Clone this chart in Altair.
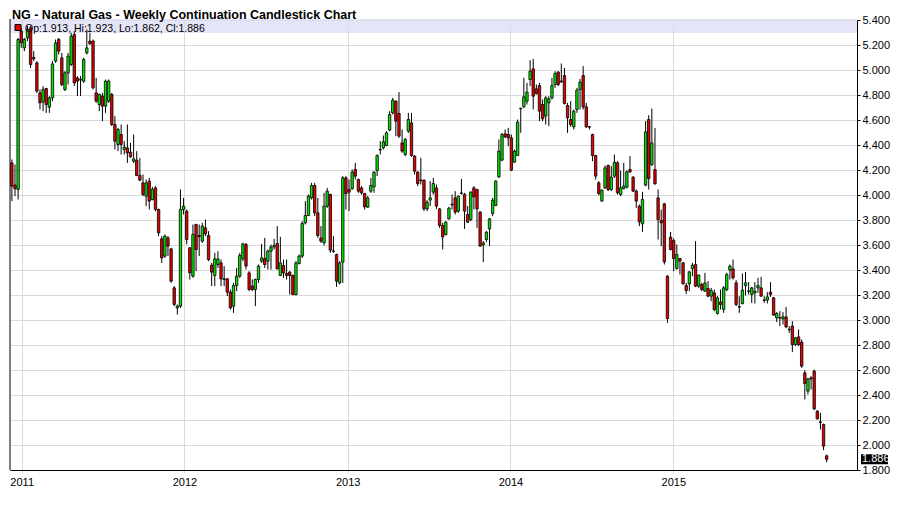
import altair as alt
import pandas as pd
import numpy as np

# ---- data (weekly candles, Dec 2010 - Dec 2015) ----
opens = [
    4.257, 4.080, 4.044, 5.311, 5.177, 5.257, 5.337, 5.100, 5.057, 4.817,
    4.745, 4.852, 4.703, 4.777, 5.071, 5.244, 5.097, 4.844, 4.977, 5.044,
    5.284, 4.937, 4.920, 4.911, 5.137, 5.231, 5.231, 4.817, 4.724, 4.791,
    4.711, 4.751, 4.804, 4.564, 4.404, 4.484, 4.364, 4.377, 4.343, 4.271,
    4.279, 4.156, 4.097, 3.991, 4.111, 3.964, 4.057, 3.884, 3.649, 3.511,
    3.657, 3.569, 3.257, 3.097, 3.111, 3.884, 3.871, 3.577, 3.351, 3.764,
    3.675, 3.631, 3.737, 3.676, 3.439, 3.356, 3.444, 3.457, 3.329, 3.329,
    3.223, 3.111, 3.276, 3.351, 3.489, 3.604, 3.377, 3.271, 3.244, 3.324,
    3.471, 3.492, 3.471, 3.551, 3.585, 3.612, 3.356, 3.436, 3.372, 3.383,
    3.356, 3.204, 3.452, 3.511, 3.777, 3.836, 3.977, 4.076, 3.857, 3.657,
    3.617, 3.911, 4.004, 3.553, 3.524, 3.297, 3.463, 4.137, 4.044, 4.049,
    4.204, 4.124, 4.057, 4.012, 3.903, 4.031, 4.065, 4.196, 4.360, 4.377,
    4.396, 4.519, 4.657, 4.751, 4.652, 4.417, 4.324, 4.511, 4.577, 4.311,
    4.183, 4.120, 4.119, 3.889, 3.959, 4.023, 4.057, 3.889, 3.756, 3.684,
    3.809, 3.926, 3.977, 3.871, 4.012, 4.004, 3.844, 3.804, 4.057, 4.044,
    3.863, 3.601, 3.644, 3.729, 3.852, 3.916, 4.145, 4.279, 4.489, 4.484,
    4.457, 4.263, 4.316, 4.690, 4.705, 4.751, 4.924, 5.009, 4.849, 4.876,
    4.724, 4.631, 4.737, 4.777, 4.884, 4.983, 4.912, 4.956, 4.716, 4.604,
    4.545, 4.684, 4.844, 4.956, 4.705, 4.547, 4.484, 4.316, 4.097, 3.951,
    4.057, 4.236, 4.044, 4.151, 4.257, 4.004, 4.052, 4.063, 4.204, 4.143,
    4.031, 3.911, 3.769, 4.079, 4.604, 4.244, 4.204, 3.977, 3.796, 3.929,
    3.351, 3.663, 3.636, 3.412, 3.492, 3.457, 3.276, 3.289, 3.412, 3.444,
    3.271, 3.284, 3.231, 3.252, 3.191, 3.217, 3.052, 3.143, 3.084, 3.244,
    3.399, 3.409, 3.297, 3.108, 3.132, 3.276, 3.233, 3.204, 3.217, 3.257,
    3.257, 3.161, 3.159, 3.223, 3.177, 3.017, 3.019, 3.009, 3.025, 2.926,
    2.951, 2.804, 2.865, 2.823, 2.577, 2.431, 2.537, 2.591, 2.271, 2.185,
    2.164, 1.913,
]
highs = [
    4.284, 4.244, 5.257, 5.337, 5.257, 5.351, 5.351, 5.151, 5.071, 4.844,
    4.871, 4.857, 4.791, 5.071, 5.244, 5.257, 5.137, 4.991, 5.137, 5.297,
    5.311, 4.951, 4.951, 5.097, 5.324, 5.297, 5.244, 4.937, 4.811, 4.817,
    4.924, 4.924, 4.817, 4.631, 4.537, 4.564, 4.431, 4.564, 4.417, 4.484,
    4.351, 4.297, 4.164, 4.124, 4.137, 4.065, 4.071, 3.891, 3.671, 3.684,
    3.671, 3.577, 3.271, 3.124, 4.044, 3.977, 3.884, 3.584, 3.764, 3.770,
    3.764, 3.777, 3.804, 3.711, 3.457, 3.537, 3.551, 3.484, 3.431, 3.337,
    3.244, 3.297, 3.417, 3.537, 3.617, 3.617, 3.391, 3.324, 3.331, 3.444,
    3.609, 3.657, 3.564, 3.604, 3.649, 3.751, 3.665, 3.484, 3.484, 3.391,
    3.364, 3.471, 3.524, 3.791, 3.951, 4.004, 4.097, 4.097, 3.977, 3.751,
    4.017, 4.057, 4.011, 3.671, 3.531, 3.471, 4.151, 4.151, 4.124, 4.204,
    4.257, 4.131, 4.071, 4.017, 3.991, 4.137, 4.191, 4.324, 4.431, 4.476,
    4.511, 4.671, 4.777, 4.756, 4.823, 4.524, 4.457, 4.657, 4.657, 4.319,
    4.191, 4.297, 4.124, 3.959, 4.111, 4.137, 4.084, 3.897, 3.777, 3.791,
    3.905, 4.004, 4.031, 3.996, 4.129, 4.017, 3.911, 4.031, 4.071, 4.049,
    3.871, 3.631, 3.711, 3.817, 3.977, 4.119, 4.444, 4.497, 4.524, 4.537,
    4.484, 4.364, 4.604, 4.697, 4.937, 4.897, 5.079, 5.089, 4.884, 4.897,
    4.764, 4.791, 4.791, 4.937, 4.991, 4.991, 5.052, 5.017, 4.737, 4.751,
    4.684, 4.857, 4.929, 5.031, 4.737, 4.551, 4.491, 4.321, 4.111, 4.044,
    4.236, 4.244, 4.231, 4.324, 4.271, 4.196, 4.257, 4.196, 4.311, 4.151,
    4.044, 3.924, 4.025, 4.591, 4.639, 4.692, 4.537, 4.044, 3.884, 3.937,
    3.358, 3.705, 3.652, 3.604, 3.497, 3.465, 3.297, 3.391, 3.457, 3.631,
    3.364, 3.297, 3.377, 3.311, 3.257, 3.244, 3.191, 3.244, 3.271, 3.377,
    3.444, 3.484, 3.319, 3.191, 3.372, 3.383, 3.303, 3.265, 3.303, 3.337,
    3.345, 3.191, 3.223, 3.303, 3.185, 3.063, 3.071, 3.063, 3.105, 2.951,
    2.991, 2.865, 2.924, 2.844, 2.599, 2.537, 2.551, 2.604, 2.279, 2.257,
    2.172, 1.923,
]
lows = [
    3.951, 3.991, 3.964, 5.177, 5.151, 5.231, 5.017, 5.071, 4.817, 4.684,
    4.671, 4.657, 4.657, 4.751, 5.057, 5.124, 4.871, 4.831, 4.884, 5.031,
    4.871, 4.791, 4.791, 4.897, 5.124, 5.204, 4.844, 4.737, 4.671, 4.591,
    4.657, 4.737, 4.551, 4.364, 4.351, 4.324, 4.324, 4.257, 4.297, 4.257,
    4.151, 4.111, 3.991, 3.911, 3.884, 3.957, 3.871, 3.671, 3.457, 3.497,
    3.511, 3.297, 3.111, 3.044, 3.097, 3.844, 3.604, 3.324, 3.337, 3.391,
    3.511, 3.617, 3.671, 3.471, 3.271, 3.271, 3.417, 3.271, 3.271, 3.191,
    3.084, 3.057, 3.231, 3.337, 3.471, 3.404, 3.231, 3.231, 3.111, 3.297,
    3.457, 3.417, 3.404, 3.404, 3.564, 3.404, 3.351, 3.337, 3.324, 3.204,
    3.198, 3.196, 3.444, 3.497, 3.764, 3.831, 3.964, 3.831, 3.657, 3.617,
    3.596, 3.897, 3.537, 3.537, 3.265, 3.284, 3.297, 3.884, 3.871, 4.044,
    4.124, 4.017, 4.004, 3.884, 3.897, 4.017, 4.017, 4.151, 4.324, 4.364,
    4.391, 4.511, 4.644, 4.471, 4.457, 4.337, 4.311, 4.497, 4.305, 4.164,
    4.071, 4.084, 3.871, 3.871, 3.911, 4.004, 3.889, 3.737, 3.564, 3.676,
    3.804, 3.884, 3.844, 3.857, 4.004, 3.729, 3.777, 3.791, 3.884, 3.737,
    3.585, 3.463, 3.623, 3.591, 3.831, 3.911, 4.137, 4.271, 4.457, 4.391,
    4.191, 4.257, 4.311, 4.497, 4.697, 4.724, 4.871, 4.684, 4.804, 4.591,
    4.591, 4.564, 4.551, 4.764, 4.857, 4.871, 4.897, 4.724, 4.497, 4.545,
    4.524, 4.657, 4.684, 4.684, 4.537, 4.524, 4.271, 4.124, 3.996, 3.948,
    4.049, 4.031, 4.031, 4.137, 4.004, 3.991, 4.044, 4.052, 4.177, 4.025,
    3.897, 3.751, 3.705, 4.071, 4.044, 4.231, 4.084, 3.644, 3.591, 3.444,
    2.977, 3.556, 3.391, 3.404, 3.364, 3.284, 3.209, 3.231, 3.351, 3.263,
    3.257, 3.231, 3.225, 3.183, 3.151, 3.071, 3.044, 3.084, 3.057, 3.231,
    3.324, 3.324, 3.111, 3.057, 3.124, 3.196, 3.204, 3.137, 3.132, 3.217,
    3.185, 3.137, 3.132, 3.185, 3.036, 2.983, 2.951, 2.964, 2.935, 2.897,
    2.743, 2.791, 2.791, 2.617, 2.364, 2.404, 2.444, 2.279, 2.204, 2.124,
    1.959, 1.862,
]
closes = [
    4.071, 4.050, 5.244, 5.217, 5.244, 5.324, 5.044, 5.090, 4.831, 4.737,
    4.844, 4.724, 4.777, 5.049, 5.217, 5.151, 4.884, 4.977, 5.111, 5.271,
    4.897, 4.911, 4.925, 5.084, 5.177, 5.209, 4.857, 4.751, 4.804, 4.711,
    4.911, 4.911, 4.564, 4.431, 4.524, 4.404, 4.383, 4.337, 4.305, 4.289,
    4.156, 4.119, 4.004, 4.097, 3.951, 4.044, 3.884, 3.697, 3.497, 3.671,
    3.591, 3.311, 3.124, 3.111, 3.884, 3.911, 3.644, 3.377, 3.684, 3.564,
    3.668, 3.751, 3.689, 3.484, 3.383, 3.489, 3.489, 3.329, 3.324, 3.223,
    3.097, 3.276, 3.351, 3.516, 3.609, 3.431, 3.244, 3.244, 3.324, 3.431,
    3.497, 3.444, 3.551, 3.585, 3.596, 3.409, 3.457, 3.377, 3.356, 3.356,
    3.204, 3.457, 3.511, 3.772, 3.836, 3.991, 4.076, 3.857, 3.676, 3.631,
    3.911, 4.031, 3.559, 3.549, 3.311, 3.457, 4.137, 4.012, 4.023, 4.183,
    4.151, 4.031, 4.017, 3.905, 3.977, 4.076, 4.183, 4.316, 4.365, 4.425,
    4.497, 4.644, 4.759, 4.591, 4.471, 4.351, 4.444, 4.604, 4.316, 4.191,
    4.092, 4.116, 3.889, 3.943, 3.977, 4.092, 3.911, 3.756, 3.665, 3.783,
    3.895, 3.922, 3.863, 3.991, 4.017, 3.871, 3.783, 4.023, 3.985, 3.889,
    3.591, 3.617, 3.703, 3.809, 3.959, 4.111, 4.351, 4.484, 4.465, 4.457,
    4.199, 4.351, 4.583, 4.695, 4.785, 4.823, 4.991, 4.791, 4.812, 4.671,
    4.609, 4.777, 4.769, 4.876, 4.972, 4.884, 4.905, 4.732, 4.617, 4.564,
    4.671, 4.839, 4.903, 4.705, 4.545, 4.543, 4.316, 4.151, 4.012, 4.039,
    4.217, 4.044, 4.143, 4.262, 4.017, 4.057, 4.071, 4.185, 4.185, 4.031,
    3.951, 3.785, 3.964, 4.505, 4.132, 4.417, 4.089, 3.804, 3.777, 3.465,
    3.012, 3.564, 3.492, 3.524, 3.471, 3.289, 3.236, 3.385, 3.439, 3.271,
    3.359, 3.244, 3.297, 3.191, 3.236, 3.084, 3.177, 3.124, 3.257, 3.364,
    3.431, 3.337, 3.124, 3.103, 3.239, 3.297, 3.229, 3.257, 3.231, 3.276,
    3.191, 3.157, 3.185, 3.204, 3.039, 3.052, 3.015, 3.025, 2.945, 2.922,
    2.804, 2.857, 2.804, 2.631, 2.492, 2.529, 2.529, 2.289, 2.209, 2.181,
    1.991, 1.886,
]
first_week = "2010-12-10"
y_ticks = [1.8, 2.0, 2.2, 2.4, 2.6, 2.8, 3.0, 3.2, 3.4, 3.6, 3.8, 4.0,
           4.2, 4.4, 4.6, 4.8, 5.0, 5.2, 5.4]
year_ticks = [2011, 2012, 2013, 2014, 2015]
title_text = "NG - Natural Gas - Weekly Continuation Candlestick Chart"
info_text = "Op:1.913, Hi:1.923, Lo:1.862, Cl:1.886"
last_price = 1.886
last_label = "1.886"

# ---- styling ----
FONT = "Liberation Sans"
GREEN = "#00e400"
RED = "#e80000"
GRID = "#d9d9d9"
W, H = 847, 450

df = pd.DataFrame({"o": opens, "h": highs, "l": lows, "c": closes})
df["d"] = pd.date_range(first_week, periods=len(df), freq="7D")
df["dir"] = np.where(df["c"] >= df["o"], "up", "down")

xscale = alt.Scale(domain=[alt.DateTime(year=2010, month=12, date=5, hours=19),
                           alt.DateTime(year=2016, month=2, date=17)],
                   nice=False, padding=0)
yscale = alt.Scale(domain=[1.8, 5.4], nice=False, zero=False, padding=0)

xaxis = alt.Axis(values=[alt.DateTime(year=y, month=1, date=1) for y in year_ticks],
                 format="%Y", title=None, grid=True, gridColor=GRID,
                 domainColor="black", tickColor=GRID, tickSize=3,
                 labelFont=FONT, labelFontSize=11, labelColor="black",
                 labelPadding=3, labelFlush=False, labelAngle=0)
yaxis = alt.Axis(orient="right", values=y_ticks, format=".3f", title=None,
                 grid=True, gridColor=GRID, domainColor="black",
                 tickColor="black", tickSize=3, labelFont=FONT,
                 labelFontSize=11, labelColor="black", labelPadding=2)

one = pd.DataFrame({"p": [last_price]})

band = alt.Chart(one).mark_rect(fill="#dcdcf6", opacity=0.75).encode(
    x=alt.value(0), x2=alt.value(W), y=alt.value(-1), y2=alt.value(13))

wicks = alt.Chart(df).mark_rule(color="black", strokeWidth=1).encode(
    x=alt.X("d:T", scale=xscale, axis=xaxis),
    y=alt.Y("l:Q", scale=yscale, axis=yaxis),
    y2="h:Q")

bodies = alt.Chart(df).mark_bar(size=2.4, stroke="black", strokeWidth=0.8).encode(
    x=alt.X("d:T", scale=xscale, axis=xaxis),
    y=alt.Y("o:Q", scale=yscale, axis=yaxis),
    y2="c:Q",
    color=alt.Color("dir:N", scale=alt.Scale(domain=["up", "down"], range=[GREEN, RED]),
                    legend=None))

left_line = alt.Chart(one).mark_rule(color="black", strokeWidth=1).encode(
    x=alt.value(0), y=alt.value(-1), y2=alt.value(H))

square = alt.Chart(one).mark_rect(fill=RED, stroke="black", strokeWidth=1).encode(
    x=alt.value(5), x2=alt.value(11), y=alt.value(4.5), y2=alt.value(10.5))

info = alt.Chart(one).mark_text(text=info_text, align="left", baseline="alphabetic",
                                font=FONT, fontSize=10.5, color="black").encode(
    x=alt.value(15), y=alt.value(11.8))

title = alt.Chart(one).mark_text(text=title_text, align="left", baseline="alphabetic",
                                 font=FONT, fontSize=12.5, fontWeight="bold",
                                 color="black").encode(
    x=alt.value(2), y=alt.value(-0.8))

box = alt.Chart(one).mark_point(shape="M-1,-0.37L1,-0.37L1,0.37L-1,0.37Z", filled=True,
                                color="black", opacity=1, size=729).encode(
    x=alt.value(W + 17.5), y=alt.Y("p:Q", scale=yscale, axis=yaxis))

box_text = alt.Chart(one).mark_text(text=last_label, align="left", baseline="middle",
                                    font=FONT, fontSize=11, color="white").encode(
    x=alt.value(W + 5), y=alt.Y("p:Q", scale=yscale, axis=yaxis))

chart = alt.layer(band, wicks, bodies, left_line, square, info, title, box, box_text).properties(
    width=W, height=H,
    padding={"left": 2, "top": 12, "right": 34, "bottom": 26},
    autosize=alt.AutoSizeParams(type="none"),
    background="white",
).configure_view(stroke="transparent")

chart.save("out.html", embed_options={"renderer": "svg", "actions": False})
